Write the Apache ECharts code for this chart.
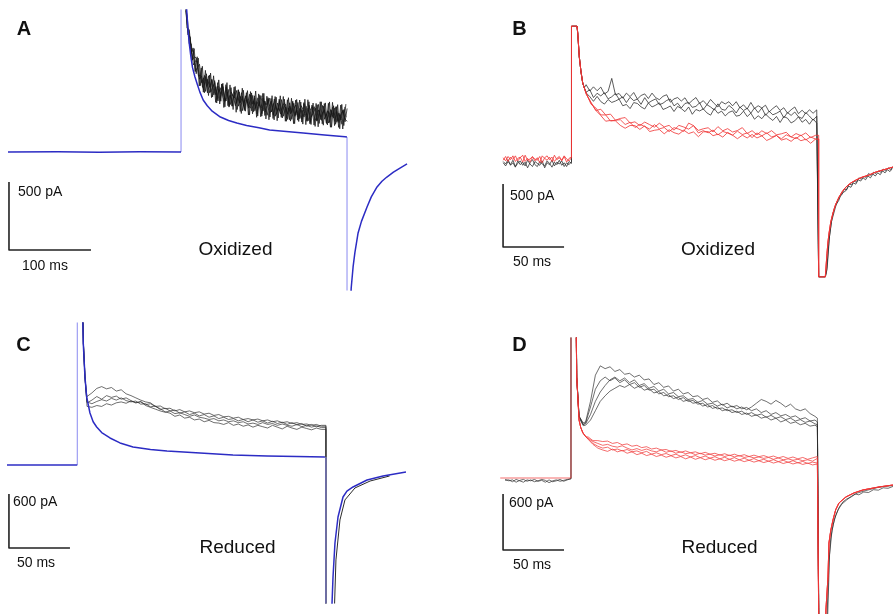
<!DOCTYPE html>
<html><head><meta charset="utf-8">
<script src="https://cdn.jsdelivr.net/npm/echarts@6/dist/echarts.min.js"></script>
<style>html,body{margin:0;padding:0;background:#fff}#c{width:893px;height:614px}</style>
</head><body><div id="c"></div>
<script>
// ================= DATA (time in ms from step onset, current in pA) =================
// ---- Panel A (oxidized, single fit + noisy traces) ----
const A_baseline = [[-211,0],[-150,1],[-100,-1],[-50,1],[0,0]];
const A_fit = [[4.5,2000],[6.9,1044],[8.5,900],[10,800],[12,700],[14,620],[17,551],[20,495],[23,440],[27,382],[32,340],[38,300],[48,257],[58,232],[68,213],[80,195],[95,178],[108,162],[125,152],[149,140],[175,125],[200,112],[202.3,110]];
const A_dropT = 202.4;
const A_tail = [[205.5,-1300],[207.5,-1000],[209.8,-845],[212,-740],[215.9,-595],[220,-510],[226.8,-404],[232,-330],[239,-257],[245,-215],[251,-184],[259,-148],[267,-118],[275.6,-88]];
const A_DT = 2.5;
const A_T0 = [5, 5, 6.25, 6.0, 7.2];
const A_k1 = [1130,910,900,740,745,595,620,645,510,545,445,535,475,530,420,480,375,473,435,372,480,385,418,337,442,357,457,363,409,315,386,322,419,351,398,280,372,324,396,293,345,397,294,356,263,360,303,385,263,331,279,362,240,318,346,259,322,240,353,271,324,217,295,333,237,310,254,342,241,279,213,312,260,324,218,286,235,309,222,320];
const A_k2 = [1075,1000,795,795,640,670,665,535,560,455,555,490,435,535,475,420,485,378,500,407,375,460,348,422,397,452,337,408,304,385,416,337,324,416,303,370,337,414,301,373,270,337,374,271,348,300,378,270,323,351,239,337,290,358,271,364,247,310,258,336,229,307,335,258,227,350,239,287,311,209,298,257,330,224,298,216,280,304,242,225];
const A_k3 = [1035,860,840,675,700,690,557,565,475,563,483,560,440,480,510,385,462,424,481,373,442,336,440,409,340,410,360,436,337,413,359,425,302,374,321,398,330,282,374,346,388,290,307,389,276,324,281,339,362,250,323,281,374,262,310,243,341,314,282,225,343,256,289,322,231,304,233,336,260,303,217,306,249,333,227,275,204,313,256];
const A_k4 = [1040,860,850,675,760,575,690,487,630,435,575,415,580,405,525,360,530,373,505,332,510,330,473,312,482,312,442,283,454,300,451,272,434,296,448,265,417,264,431,243,400,257,414,236,403,250,413,250,388,226,399,227,365,208,386,224,367,205,388,231,369,202,360,188,347,210,369,197,361,199,368,182,340,204,348,171,350,194,352];
const A_k5 = [920,890,720,765,590,700,485,618,440,600,435,565,400,560,365,510,353,500,327,495,340,493,337,477,292,457,298,469,305,436,272,444,281,413,255,427,259,431,268,410,237,394,246,408,230,388,255,408,226,384,237,395,208,381,234,382,220,363,201,384,207,345,198,357,185,369,207,356,214,358,182,365,194,333,181,345,169,332];

// ---- Panel B (oxidized, black vs red) ----
const B_baseT0 = -56, B_baseDT = 2;
const B_r_base1 = [10,-15,20,-5,25,-20,5,15,-25,30,-10,0,20,-15,10,-30,25,5,-10,15,-20,30,-5,10,-15,20,-25,5,15];
const B_r_base2 = [-10,20,-20,15,-5,25,-15,10,30,-20,5,-25,15,0,-10,20,-30,10,25,-5,15,-20,5,20,-10,25,0,-15,10];
const B_k_base1 = [-30,-55,-20,-45,-10,-60,-35,-15,-50,-25,-70,-30,-5,-45,-60,-20,-40,-55,-15,-35,-65,-25,-45,-10,-50,-30,-60,-20,-35];
const B_k_base2 = [-20,-40,-5,-50,-30,-65,-15,-45,-25,-55,-10,-40,-60,-20,-35,-50,-15,-70,-30,-45,-10,-55,-25,-40,-15,-60,-30,-45,-20];
const B_onset = [[0,1056],[4.5,1056],[5.1,1000],[6.4,810],[7.8,691],[9.2,603],[10.5,565]];
const B_dropT = 202.6, B_low = -937;
const B_lowHold = [[202.6,-937],[208,-937]];
const B_r_tail = [[208.6,-858],[209.4,-750],[210.2,-660],[211.1,-588],[212.5,-500],[214.3,-429],[216.5,-360],[219.3,-302],[222,-258],[225,-222],[229,-190],[233.2,-167],[238,-145],[243.9,-127],[249,-105],[255.3,-87],[263.5,-64]];
const B_k_tail1 = [[209,-900],[211,-650],[213,-500],[215,-430],[217,-360],[219,-330],[221,-280],[223,-265],[225,-250],[227,-215],[229,-225],[231,-190],[233,-200],[235,-165],[237,-175],[239,-150],[241,-165],[243,-135],[245,-150],[247,-120],[249,-135],[251,-110],[253,-125],[255,-95],[257,-110],[259,-85],[261,-100],[263,-75]];
const B_k_tail2 = [[209.5,-870],[211.5,-610],[213.5,-470],[215.5,-390],[217.5,-350],[219.5,-300],[221.5,-285],[223.5,-240],[225.5,-245],[227.5,-200],[229.5,-205],[231.5,-175],[233.5,-185],[235.5,-150],[237.5,-160],[239.5,-140],[241.5,-145],[243.5,-115],[245.5,-130],[247.5,-105],[249.5,-115],[251.5,-95],[253.5,-105],[255.5,-80],[257.5,-95],[259.5,-70],[261.5,-85],[263.5,-60]];
const B_kT0 = 12, B_kDT = 3;
const B_k1 = [590,540,573,542,571,516,537,640,510,520,483,523,495,528,476,504,517,480,523,487,471,498,510,451,477,488,460,486,438,465,488,441,463,431,473,440,413,455,437,455,422,455,407,430,397,449,401,423,405,427,374,401,423,385,407,364,391,413,360,387,359,391,363,390];
const B_k2 = [530,550,488,522,501,526,477,494,520,475,493,448,490,463,476,434,487,445,463,477,431,443,465,476,422,443,405,441,448,410,418,446,393,431,413,390,438,395,387,425,402,365,412,385,402,364,406,368,405,347,379,351,363,380,327,369,346,373,335,322,369,341,308,340];
const B_k3 = [525,495,458,497,456,436,472,449,460,475,423,433,400,448,441,414,397,445,413,427,446,393,405,421,377,418,400,376,413,355,393,381,398,366,348,400,363,380,342,370,382,340,347,380,337,364,316,343,320,357,329,306,338,290,337,324,286,303,335,292,314,276,318,285];
const B_rT0 = 12, B_rDT = 4;
const B_r1 = [520,445,385,395,350,356,308,322,329,286,295,265,293,273,253,284,255,267,229,267,254,237,265,227,240,248,215,257,224,241,214,226,249,202,225,192,224,202,225,192,200,212,175,202,185,207,170,188];
const B_r2 = [525,435,405,350,350,301,308,312,274,291,250,275,258,238,273,239,250,217,249,237,219,285,265,207,225,208,230,192,219,206,189,221,194,207,170,207,184,207,175,187,160,192,175,162,190,152,175,158];
const B_r3 = [515,450,385,345,300,306,303,267,244,266,265,235,263,218,228,234,200,232,209,197,229,202,215,177,215,218,185,197,174,211,189,161,189,167,195,167,184,147,165,187,150,162,140,172,145,157,125,158];

// ---- Panel C (reduced, single fit + traces) ----
const C_baseline = [[-57.6,0],[-30,0],[0,0]];
const C_fit = [[4.2,1800],[4.9,1354],[6.3,977],[7.7,755],[10.4,577],[13,480],[15.9,422],[20,360],[26.8,300],[35,245],[45.7,200],[60,172],[73.5,155],[100.6,133],[127.6,111],[155.5,100],[180,94],[203,89]];
const C_dropT = 203.8;
const C_tail = [[208.3,-1700],[208.8,-1532],[209.6,-1243],[211.2,-866],[213.7,-577],[217.8,-355],[221,-290],[226,-244],[237.5,-167],[250.6,-122],[269.4,-78]];
const C_kOnset = [[4.4,1800],[5.0,1350],[6.3,980],[7.2,820]];
const C_k_tail = [[210.4,-1700],[210.9,-1532],[212,-1054],[215.3,-610],[219.4,-388],[227.6,-255],[240,-178],[256,-122]];
const C_kT0 = 8, C_kDT = 4;
const C_k1 = [760,800,850,870,845,860,820,835,790,770,745,720,700,690,650,625,590,575,540,555,520,530,500,510,480,495,470,465,450,470,440,455,430,445,420,440,425,410,440,420,400,430,410,395,420,405,390,410,395];
const C_k2 = [700,680,705,725,710,740,720,745,715,700,710,675,680,645,655,615,630,600,610,575,590,560,575,545,560,530,545,515,530,505,515,490,505,480,500,475,490,465,485,460,475,450,470,445,460,430,450,425,440];
const C_k3 = [650,640,660,650,680,665,690,700,685,710,690,700,670,680,650,655,625,630,600,615,590,600,580,590,565,575,550,560,535,540,520,530,505,515,500,510,490,500,480,490,470,480,460,470,450,455,440,450,430];
const C_k4 = [690,720,760,730,770,750,765,730,745,715,690,705,660,640,620,600,585,600,570,580,560,540,555,530,520,505,515,490,500,480,490,470,480,455,465,450,470,450,460,440,455,440,430,450,425,440,420,435,415];

// ---- Panel D (reduced, black vs red) ----
const D_r_baseline = [[-58,0],[-30,0],[0,0]];
const D_r_onset = [[0,1800],[4.1,1800],[4.7,1081],[6.6,621],[8,540],[9.8,482],[12.3,439]];
const D_k_onset = [[0,1800],[4.2,1800],[4.7,1081],[6.6,660]];
const D_kbT0 = -54, D_kbDT = 3;
const D_k_base1 = [-15,-30,-20,-45,-25,-15,-35,-20,-40,-30,-15,-25,-50,-30,-20,-35,-25,-15,-10];
const D_k_base2 = [-25,-20,-40,-15,-30,-45,-20,-30,-15,-35,-25,-45,-20,-40,-30,-15,-35,-20,-5];
const D_dropT = 203.3;
const D_r_tail = [[208.5,-1800],[209,-1412],[210.7,-1059],[211.5,-695],[213,-560],[214.8,-449],[217,-340],[219.7,-267],[225.4,-203],[232,-160],[239.3,-128],[252.5,-96],[263.9,-75]];
const D_k_tail1 = [[209.5,-1800],[210,-1455],[211.5,-900],[213,-640],[215,-500],[217,-400],[220,-310],[223,-255],[226,-225],[230,-200],[233,-170],[236,-180],[240,-150],[244,-155],[248,-125],[252,-130],[256,-105],[260,-110],[264,-90]];
const D_k_tail2 = [[210,-1800],[210.5,-1455],[212,-820],[214,-560],[216,-440],[219,-340],[222,-280],[226,-235],[230,-195],[235,-160],[240,-140],[246,-120],[252,-100],[258,-90],[264,-80]];
const D_kTimes = [8,10,12,16,20,24,28,32,36,40,44,48,52,56,60,64,68,72,76,80,84,88,92,96,100,104,108,112,116,120,124,128,132,136,140,144,148,152,156,160,164,168,172,176,180,184,188,192,196,200,202];
const D_k1 = [640,590,600,820,1100,1200,1170,1190,1140,1160,1110,1120,1080,1100,1050,1060,1000,1020,970,985,930,950,900,915,870,880,840,855,810,825,780,800,760,775,740,755,720,740,700,720,680,700,665,680,650,665,630,645,610,620,600];
const D_k2 = [630,575,580,680,820,920,990,1050,1080,1040,1070,1020,1050,990,1010,960,980,930,950,900,915,870,880,840,850,810,830,790,800,770,790,750,770,740,760,730,760,800,840,820,790,830,800,760,790,740,720,740,690,660,640];
const D_k3 = [620,570,590,760,950,1040,1080,1040,1070,1020,1050,1000,1020,970,990,940,950,900,915,870,880,840,860,820,830,790,800,760,775,740,750,720,730,700,715,680,700,670,685,650,670,640,655,625,640,610,625,595,610,580,570];
const D_k4 = [610,560,565,620,720,820,880,930,960,990,970,1000,960,985,940,955,910,925,880,890,850,865,820,835,800,810,770,785,745,760,720,735,700,715,680,695,660,675,640,655,620,640,600,620,585,600,570,585,555,565,550];
const D_rT0 = 14, D_rDT = 4;
const D_r1 = [440,400,400,390,395,370,380,355,365,340,350,325,335,310,320,300,305,285,295,275,290,270,280,260,275,255,265,245,260,240,255,235,250,230,245,228,240,222,235,215,230,210,225,205,220,200,215,230];
const D_r2 = [420,370,340,320,330,300,310,290,305,280,290,270,285,255,270,250,262,240,255,232,248,225,240,218,235,212,228,205,222,200,218,195,212,190,208,185,200,180,196,175,190,168,185,162,178,155,170,160];
const D_r3 = [415,360,320,300,285,310,280,295,265,280,250,265,240,255,230,245,222,238,215,230,205,225,200,218,195,212,190,205,185,200,180,195,175,190,170,185,165,180,160,175,155,170,150,165,145,160,140,150];
const D_r4 = [425,390,370,350,360,340,330,345,320,300,315,295,310,290,280,300,275,290,265,280,260,270,250,265,245,255,235,250,230,245,225,240,220,230,215,225,210,220,200,215,195,205,190,200,185,195,180,210];

// ---- Scale bars (size in ms / pA) ----
const scaleBars = [
  {g:0, ms:100, pA:500, msLabel:'100 ms', pALabel:'500 pA'},
  {g:1, ms:50,  pA:500, msLabel:'50 ms',  pALabel:'500 pA'},
  {g:2, ms:50,  pA:600, msLabel:'50 ms',  pALabel:'600 pA'},
  {g:3, ms:50,  pA:600, msLabel:'50 ms',  pALabel:'600 pA'}
];
const panelLetters = ['A','B','C','D'];
const conditions = ['Oxidized','Oxidized','Reduced','Reduced'];

// ================= LAYOUT =================
const grids = [
  {left:8,   top:10,  width:402, height:280},
  {left:500, top:26,  width:393, height:251},
  {left:7,   top:323, width:403, height:280},
  {left:500, top:338, width:393, height:276}
];
const xRange = [[-211,279.2],[-58.6,263.5],[-57.6,272.7],[-58.2,264]];
const yRange = [[-1014.3,1043.7],[-937,1056],[-1532,1576],[-1455,1498]];
const barAnchor = [[-209.8,-720],[-56.1,-699],[-56,-921],[-55.7,-770]];

// ================= BUILD =================
function seq(t0, dt, vals){ return vals.map((v,i)=>[+(t0+i*dt).toFixed(3), v]); }
function zipT(ts, vals){ return vals.map((v,i)=>[ts[i], v]); }
function drop(pts, t, low){ const last = pts[pts.length-1][1]; return pts.concat([[t,last],[t,low]]); }

const BLUE = '#2c2cc4', LBLUE = '#8a8af0', RED = '#f03434', BLACK = '#151515';
const series = [];
function add(g, data, color, width, z, opacity){
  series.push({type:'line', xAxisIndex:g, yAxisIndex:g, data:data, symbol:'none', showSymbol:false,
    clip:true, silent:true, animation:false, z:z||2,
    lineStyle:{color:color, width:width, opacity:(opacity==null?1:opacity), join:'round'}});
}

// Panel A
[A_k1,A_k2,A_k3,A_k4,A_k5].forEach((v,i)=>add(0, seq(A_T0[i],A_DT,v), BLACK, 0.9, 2, 0.85));
add(0, [A_baseline[A_baseline.length-1], [0, 5000]], LBLUE, 1, 3);
add(0, [[A_dropT, A_fit[A_fit.length-1][1]], [A_dropT, -5000]], LBLUE, 1, 3);
add(0, A_baseline, BLUE, 1.5, 4);
add(0, A_fit, BLUE, 1.5, 4);
add(0, A_tail, BLUE, 1.5, 4);

// Panel B
const bkBody = [B_k1,B_k2,B_k3].map(v=>seq(B_kT0,B_kDT,v));
const bkBase = [seq(B_baseT0,B_baseDT,B_k_base1), seq(B_baseT0,B_baseDT,B_k_base2), []];
const bkTail = [B_k_tail1, B_k_tail2, []];
bkBody.forEach((b,i)=>{
  add(1, bkBase[i].concat(B_onset, drop(b, B_dropT, B_low), B_lowHold, bkTail[i]), '#2a2a2a', 0.9, 2, 0.85);
});
const brBody = [B_r1,B_r2,B_r3].map(v=>seq(B_rT0,B_rDT,v));
const brBase = [seq(B_baseT0,B_baseDT,B_r_base1), seq(B_baseT0,B_baseDT,B_r_base2), []];
brBody.forEach((b,i)=>{
  add(1, brBase[i].concat(B_onset, drop(b, B_dropT, B_low), B_lowHold, B_r_tail), RED, 0.9, 3, 0.9);
});

// Panel C
[C_k1,C_k2,C_k3,C_k4].forEach(v=>{
  add(2, C_kOnset.concat(drop(seq(C_kT0,C_kDT,v), C_dropT, -1800)), '#2a2a2a', 0.8, 2, 0.85);
});
add(2, C_k_tail, '#2a2a2a', 1, 2);
add(2, [C_baseline[C_baseline.length-1], [0, 5000]], LBLUE, 1, 3);
add(2, [[C_dropT, C_fit[C_fit.length-1][1]], [C_dropT, -5000]], LBLUE, 1, 3);
add(2, C_baseline, BLUE, 1.5, 4);
add(2, C_fit, BLUE, 1.5, 4);
add(2, C_tail, BLUE, 1.5, 4);

// Panel D
const dkBase = [seq(D_kbT0,D_kbDT,D_k_base1), seq(D_kbT0,D_kbDT,D_k_base2), [], []];
const dkTail = [D_k_tail1, D_k_tail2, [], []];
[D_k1,D_k2,D_k3,D_k4].forEach((v,i)=>{
  add(3, dkBase[i].concat(D_k_onset, drop(zipT(D_kTimes,v), D_dropT, -1800), dkTail[i]), '#2a2a2a', 0.8, 2, 0.85);
});
[D_r1,D_r2,D_r3,D_r4].forEach((v,i)=>{
  const base = i===0 ? D_r_baseline : [];
  add(3, base.concat(D_r_onset, drop(seq(D_rT0,D_rDT,v), D_dropT, -1800), D_r_tail), RED, 0.8, 3, 0.9);
});

// Scale bars
scaleBars.forEach((s,i)=>{
  const [t0,i0] = barAnchor[i];
  add(s.g, [[t0, i0 + s.pA],[t0, i0],[t0 + s.ms, i0]], '#222', 1.6, 5);
});

// Text
const FONT = '"Liberation Sans", Arial, sans-serif';
const letterPos = [[24,29],[519.5,29],[23.5,345],[519.5,345]];
const condPos = [[235.5,250],[718,250],[237.5,547.5],[719.5,547.5]];
const pAPos = [[18,192],[510,196],[13,502.5],[509,503.5]];
const msPos = [[22,266],[513,262.5],[17,563.5],[513,565]];
const graphic = [];
for (let i=0;i<4;i++){
  graphic.push({type:'text', silent:true, style:{text:panelLetters[i], x:letterPos[i][0], y:letterPos[i][1], align:'center', verticalAlign:'middle', font:'bold 20px '+FONT, fill:'#111'}});
  graphic.push({type:'text', silent:true, style:{text:conditions[i], x:condPos[i][0], y:condPos[i][1], align:'center', verticalAlign:'middle', font:'19px '+FONT, fill:'#111'}});
  graphic.push({type:'text', silent:true, style:{text:scaleBars[i].pALabel, x:pAPos[i][0], y:pAPos[i][1], align:'left', verticalAlign:'middle', font:'14px '+FONT, fill:'#111'}});
  graphic.push({type:'text', silent:true, style:{text:scaleBars[i].msLabel, x:msPos[i][0], y:msPos[i][1], align:'left', verticalAlign:'middle', font:'14px '+FONT, fill:'#111'}});
}

const chart = echarts.init(document.getElementById('c'), null, {renderer:'canvas'});
chart.setOption({
  animation:false,
  backgroundColor:'#ffffff',
  grid: grids,
  xAxis: grids.map((g,i)=>({type:'value', gridIndex:i, min:xRange[i][0], max:xRange[i][1], show:false})),
  yAxis: grids.map((g,i)=>({type:'value', gridIndex:i, min:yRange[i][0], max:yRange[i][1], show:false})),
  series: series,
  graphic: graphic
});
</script></body></html>
